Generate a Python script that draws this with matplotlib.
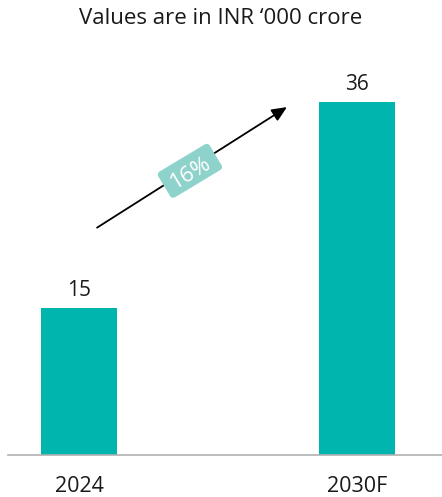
import matplotlib
matplotlib.use("Agg")
import matplotlib.pyplot as plt
from matplotlib.patches import FancyBboxPatch
from matplotlib.transforms import Affine2D, ScaledTranslation

plt.rcParams['font.family'] = ['Open Sans', 'DejaVu Sans']

categories = ["2024", "2030F"]
values = [15, 36]
cagr_label = "16%"
title = "Values are in INR \u2018000 crore"

bar_color = "#00B5AD"
badge_color = "#8ED3CB"

fig = plt.figure(figsize=(4.42, 4.97), dpi=100)
ax = fig.add_axes([8 / 442, 42 / 497, 434 / 442, 405 / 497])

x = list(range(len(categories)))
ax.bar(x, values, width=0.273, color=bar_color, zorder=2)
ax.set_xlim(-0.2554, 1.3058)
ax.set_ylim(0, 405 / 9.8)

for xi, v in zip(x, values):
    ax.text(xi, v + 0.7, f"{v}", ha="center", va="bottom", fontsize=15, color="#1a1a1a")

for s in ["top", "right", "left"]:
    ax.spines[s].set_visible(False)
ax.spines["bottom"].set_color("#b0b0b0")
ax.spines["bottom"].set_linewidth(1.2)
ax.set_yticks([])
ax.set_xticks(x)
ax.set_xticklabels(categories, fontsize=15.5, color="#1a1a1a")
ax.tick_params(axis="x", length=0, pad=15)

# growth arrow between the two bars
x0, y0 = 0.065, 23.2
x1, y1 = 0.748, 35.5
ax.annotate("", xy=(x1, y1), xytext=(x0, y0),
            arrowprops=dict(arrowstyle="-|>,head_length=0.9,head_width=0.4",
                            color="black", lw=1.3, shrinkA=0, shrinkB=0),
            zorder=3)

# rotated CAGR badge sitting on the arrow
angle = 31
cx, cy = 0.399, 29.0
badge_tf = Affine2D().rotate_deg(angle) + ScaledTranslation(cx, cy, ax.transData)
badge = FancyBboxPatch((-30, -15), 60, 30, boxstyle="round,pad=0,rounding_size=4",
                       fc=badge_color, ec="none", transform=badge_tf, zorder=4)
ax.add_patch(badge)
ax.text(cx, cy, cagr_label, rotation=angle, rotation_mode="anchor",
        ha="center", va="center_baseline", fontsize=16, color="white", zorder=5)

fig.text(0.5, 1 - 18 / 497, title, ha="center", va="center", fontsize=16, color="#1a1a1a")

fig.savefig("out.png", dpi=100)
